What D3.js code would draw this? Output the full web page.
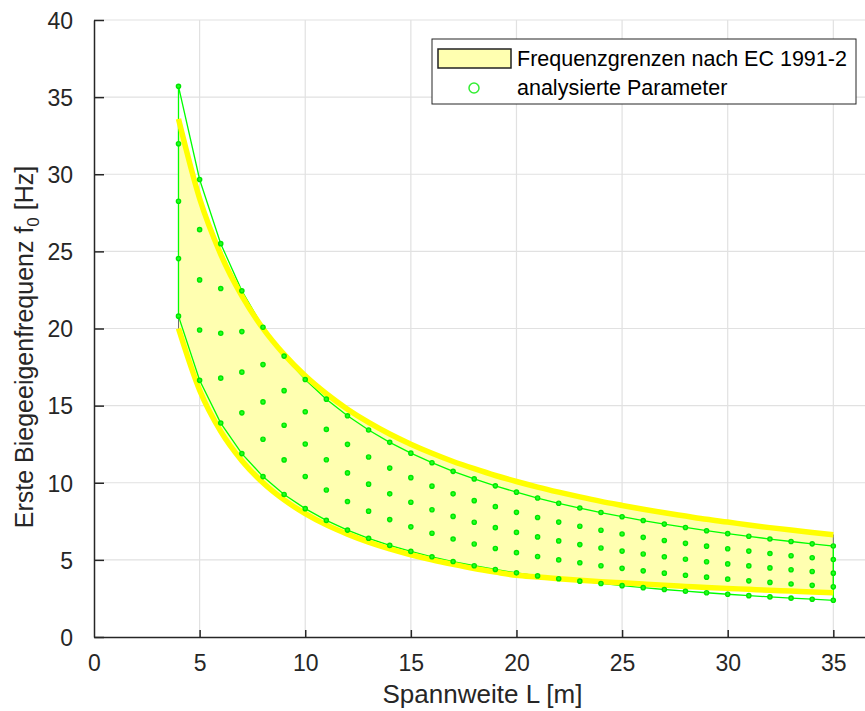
<!DOCTYPE html>
<html>
<head>
<meta charset="utf-8">
<script src="https://cdn.jsdelivr.net/npm/d3@7"></script>
<style>
    body { margin: 0; background: #fff; }
    svg { display: block; font-family: 'Liberation Sans', Arial, sans-serif; }
</style>
</head>
<body>
<div id="chart-holder"></div>
<script>
// span lengths L [m]
var spans = [4, 5, 6, 7, 8, 9, 10, 11, 12, 13, 14, 15, 16, 17, 18, 19, 20,
    21, 22, 23, 24, 25, 26, 27, 28, 29, 30, 31, 32, 33, 34, 35];

// EC 1991-2 frequency limits [Hz] (yellow band)
var ecUpper = [33.59, 28.43, 24.81, 22.11, 20.00, 18.32, 16.93, 15.77, 14.77, 13.91, 13.16, 12.50,
    11.91, 11.38, 10.91, 10.47, 10.08, 9.72, 9.39, 9.08, 8.79, 8.53, 8.28, 8.05, 7.84, 7.63,
    7.45, 7.26, 7.09, 6.93, 6.78, 6.63];
var ecLower = [20.00, 16.00, 13.33, 11.43, 10.00, 8.89, 8.00, 7.27, 6.67, 6.15, 5.71, 5.33,
    5.00, 4.71, 4.44, 4.21, 4.00, 3.89, 3.78, 3.68, 3.59, 3.51, 3.43, 3.35, 3.28, 3.21,
    3.15, 3.09, 3.03, 2.98, 2.92, 2.87];

// analysed parameters [Hz], five rows from highest to lowest frequency
var row1 = [35.70, 29.66, 25.50, 22.44, 20.08, 18.21, 16.69, 15.42, 14.34, 13.42, 12.62, 11.92,
    11.30, 10.74, 10.25, 9.80, 9.39, 9.01, 8.67, 8.36, 8.07, 7.80, 7.55, 7.32, 7.10, 6.89,
    6.70, 6.53, 6.35, 6.19, 6.04, 5.90];
var row2 = [31.98, 26.41, 22.59, 19.80, 17.66, 15.97, 14.60, 13.46, 12.49, 11.67, 10.95, 10.33,
    9.78, 9.28, 8.84, 8.45, 8.08, 7.75, 7.45, 7.18, 6.92, 6.68, 6.46, 6.26, 6.07, 5.89,
    5.72, 5.57, 5.41, 5.27, 5.14, 5.02];
var row3 = [28.25, 23.15, 19.69, 17.17, 15.24, 13.73, 12.51, 11.49, 10.64, 9.91, 9.28, 8.74,
    8.25, 7.82, 7.44, 7.09, 6.78, 6.49, 6.23, 5.99, 5.77, 5.57, 5.38, 5.20, 5.04, 4.88,
    4.74, 4.61, 4.48, 4.36, 4.25, 4.14];
var row4 = [24.53, 19.90, 16.78, 14.53, 12.82, 11.48, 10.41, 9.53, 8.78, 8.16, 7.61, 7.14,
    6.73, 6.35, 6.03, 5.74, 5.47, 5.22, 5.00, 4.81, 4.62, 4.45, 4.29, 4.14, 4.00, 3.88,
    3.75, 3.64, 3.54, 3.44, 3.35, 3.26];
var row5 = [20.80, 16.64, 13.87, 11.89, 10.40, 9.24, 8.32, 7.56, 6.93, 6.40, 5.94, 5.55,
    5.20, 4.89, 4.62, 4.38, 4.16, 3.96, 3.78, 3.62, 3.47, 3.33, 3.20, 3.08, 2.97, 2.87,
    2.77, 2.68, 2.60, 2.52, 2.45, 2.38];

var xTicks = [0, 5, 10, 15, 20, 25, 30, 35];
var yTicks = [0, 5, 10, 15, 20, 25, 30, 35, 40];
var legendLabels = ['Frequenzgrenzen nach EC 1991-2', 'analysierte Parameter'];

function createChart(elementId) {

    var width = 865;
    var height = 711;
    var margins = { top: 20, left: 94, bottom: 74 };
    var axisColor = '#262626';

    var svg = d3
        .select(elementId)
        .append('svg')
        .attr('width', width)
        .attr('height', height);

    var x = d3.scaleLinear().domain([0, 36.5]).range([margins.left, width]);
    var y = d3.scaleLinear().domain([0, 40]).range([height - margins.bottom, margins.top]);

    // grid
    var grid = svg.append('g').attr('class', 'grid');
    grid.selectAll('.gx')
        .data(xTicks.slice(1))
        .enter()
        .append('line')
        .attr('x1', function(d) { return x(d); })
        .attr('x2', function(d) { return x(d); })
        .attr('y1', y(0))
        .attr('y2', y(40))
        .style('stroke', '#e1e1e1')
        .style('stroke-width', 1.2);
    grid.selectAll('.gy')
        .data(yTicks.slice(1))
        .enter()
        .append('line')
        .attr('x1', x(0))
        .attr('x2', width)
        .attr('y1', function(d) { return y(d); })
        .attr('y2', function(d) { return y(d); })
        .style('stroke', '#e1e1e1')
        .style('stroke-width', 1.2);

    // EC band: filled patch
    var band = spans.map(function(d, i) {
        return { L: d, hi: ecUpper[i], lo: ecLower[i] };
    });
    var patchPoints = band.map(function(d) { return [x(d.L), y(d.hi)]; })
        .concat(band.slice().reverse().map(function(d) { return [x(d.L), y(d.lo)]; }));
    svg.append('path')
        .attr('d', 'M' + patchPoints.join('L') + 'Z')
        .style('fill', '#ffffb0')
        .style('stroke', '#6e6e6e')
        .style('stroke-width', 1);

    // green outline of analysed range
    var outline = spans.map(function(d, i) { return [x(d), y(row1[i])]; })
        .concat(spans.slice().reverse().map(function(d, i) {
            return [x(d), y(row5[row5.length - 1 - i])];
        }));
    svg.append('path')
        .attr('d', 'M' + outline.join('L') + 'Z')
        .style('fill', 'none')
        .style('stroke', '#00ff00')
        .style('stroke-width', 1.3);

    // yellow limit lines
    var limitLine = d3.line()
        .x(function(d) { return x(d.L); })
        .y(function(d) { return y(d.v); })
        .curve(d3.curveMonotoneX);
    [ecUpper, ecLower].forEach(function(series) {
        svg.append('path')
            .datum(spans.map(function(d, i) { return { L: d, v: series[i] }; }))
            .attr('d', limitLine)
            .style('fill', 'none')
            .style('stroke', '#ffff00')
            .style('stroke-width', 5.5);
    });

    // analysed parameter markers
    var points = [];
    [row1, row2, row3, row4, row5].forEach(function(row) {
        row.forEach(function(v, i) {
            points.push({ L: spans[i], f: v });
        });
    });
    svg.append('g')
        .selectAll('circle')
        .data(points)
        .enter()
        .append('circle')
        .attr('cx', function(d) { return x(d.L); })
        .attr('cy', function(d) { return y(d.f); })
        .attr('r', 2.1)
        .style('fill', '#22ff22')
        .style('stroke', '#00e600')
        .style('stroke-width', 1.4);

    // axes
    var xAxis = svg.append('g')
        .attr('transform', 'translate(0,' + y(0) + ')')
        .call(d3.axisBottom(x).tickValues(xTicks).tickSizeInner(-7).tickSizeOuter(0).tickPadding(18));
    var yAxis = svg.append('g')
        .attr('transform', 'translate(' + x(0) + ',0)')
        .call(d3.axisLeft(y).tickValues(yTicks).tickSizeInner(-10).tickSizeOuter(0).tickPadding(21));
    [xAxis, yAxis].forEach(function(a) {
        a.select('.domain').style('stroke', axisColor).style('stroke-width', 1.5);
        a.selectAll('.tick line').style('stroke', axisColor).style('stroke-width', 1.5);
        a.selectAll('.tick text')
            .style('fill', axisColor)
            .style('font-size', '23px')
            .style('font-family', "'Liberation Sans', Arial, sans-serif");
    });
    yAxis.selectAll('.tick text').attr('dy', '0.36em');
    xAxis.select('.tick line').remove();

    // axis labels
    svg.append('text')
        .attr('x', (margins.left + width) / 2 + 3)
        .attr('y', 703)
        .attr('text-anchor', 'middle')
        .style('font-size', '26px')
        .style('fill', axisColor)
        .text('Spannweite L [m]');

    var yLabel = svg.append('text')
        .attr('transform', 'translate(33,347) rotate(-90)')
        .attr('text-anchor', 'middle')
        .style('font-size', '25px')
        .style('fill', axisColor);
    yLabel.append('tspan').text('Erste Biegeeigenfrequenz f');
    yLabel.append('tspan').attr('dy', 6).style('font-size', '17px').text('0');
    yLabel.append('tspan').attr('dy', -6).text(' [Hz]');

    // legend
    var legendX = 432;
    var legendY = 39;
    var legendGroup = svg.append('g').attr('class', 'legend');
    legendGroup.append('rect')
        .attr('x', legendX)
        .attr('y', legendY)
        .attr('width', 424)
        .attr('height', 65)
        .style('fill', '#fff')
        .style('stroke', '#262626')
        .style('stroke-width', 1);
    legendGroup.append('rect')
        .attr('x', legendX + 6)
        .attr('y', legendY + 10)
        .attr('width', 73)
        .attr('height', 19)
        .style('fill', '#ffffb0')
        .style('stroke', '#222')
        .style('stroke-width', 1.5);
    legendGroup.append('circle')
        .attr('cx', legendX + 42)
        .attr('cy', legendY + 49)
        .attr('r', 5)
        .style('fill', 'none')
        .style('stroke', '#33ee33')
        .style('stroke-width', 1.5);
    legendGroup.selectAll('.legend-text')
        .data(legendLabels)
        .enter()
        .append('text')
        .attr('class', 'legend-text')
        .attr('x', legendX + 85)
        .attr('y', function(d, i) { return legendY + 27 + i * 29; })
        .style('font-size', '21.5px')
        .style('fill', '#000')
        .text(function(d) { return d; });
}

createChart('#chart-holder');
</script>
</body>
</html>
